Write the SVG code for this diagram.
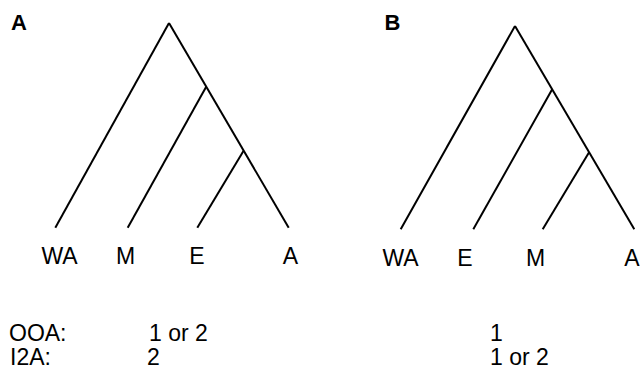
<svg xmlns="http://www.w3.org/2000/svg" width="640" height="370" viewBox="0 0 640 370">
<style>
.br{stroke:#000;stroke-width:2;fill:none}
text{font-family:"Liberation Sans",Arial,sans-serif;font-size:23px;fill:#000}
.lab{text-anchor:middle}
.pan{font-weight:bold;font-size:22px}
</style>
<rect width="640" height="370" fill="#fff"/>
<g id="connectors">
<g id="treeA">
<line class="br" x1="169" y1="23" x2="55.3" y2="227.7"/>
<line class="br" x1="169" y1="23" x2="288.7" y2="227.7"/>
<line class="br" x1="206.2" y1="86.7" x2="127.7" y2="227.7"/>
<line class="br" x1="243.6" y1="150.7" x2="197.3" y2="227.7"/>
</g>
<g id="treeB">
<line class="br" x1="515" y1="26" x2="400.7" y2="229.3"/>
<line class="br" x1="515" y1="26" x2="634.3" y2="229.3"/>
<line class="br" x1="552.2" y1="89.3" x2="473.3" y2="229.3"/>
<line class="br" x1="589.1" y1="152.3" x2="542.7" y2="229.3"/>
</g>
</g>
<g id="panelA">
<text class="pan" x="11" y="29.5">A</text>
<g id="A-WA"><text class="lab" x="59.5" y="264">WA</text></g>
<g id="A-M"><text class="lab" x="125.5" y="264">M</text></g>
<g id="A-E"><text class="lab" x="197" y="264">E</text></g>
<g id="A-A"><text class="lab" x="290.5" y="264">A</text></g>
</g>
<g id="panelB">
<text class="pan" x="384.5" y="29.5">B</text>
<g id="B-WA"><text class="lab" x="400.5" y="265.5">WA</text></g>
<g id="B-E"><text class="lab" x="465" y="265.5">E</text></g>
<g id="B-M"><text class="lab" x="535.5" y="265.5">M</text></g>
<g id="B-A"><text class="lab" x="632" y="265.5">A</text></g>
</g>
<g id="table">
<text x="9" y="341">OOA:</text>
<text x="10" y="364.5">I2A:</text>
<text x="149" y="341">1 or 2</text>
<text x="147" y="364.5">2</text>
<text x="490" y="341">1</text>
<text x="490" y="364.5">1 or 2</text>
</g>
</svg>
